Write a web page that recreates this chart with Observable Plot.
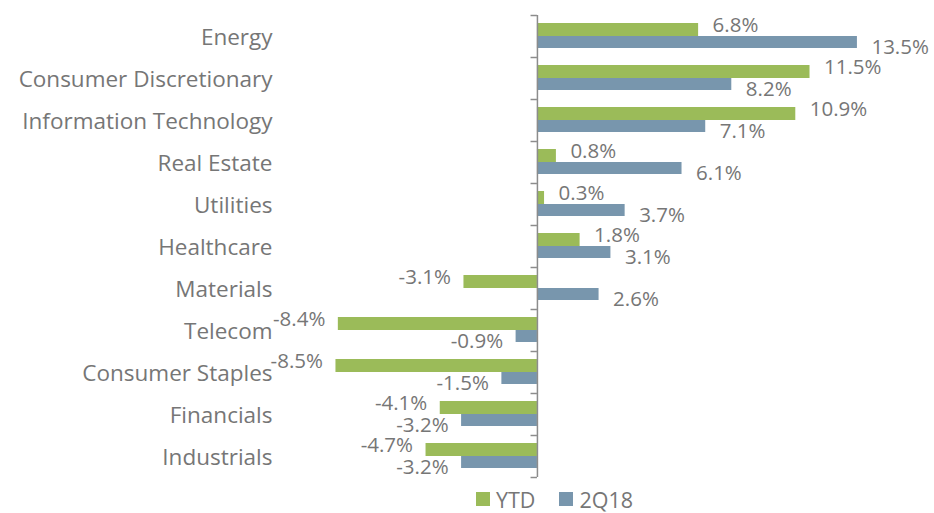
<!DOCTYPE html>
<html>
<head>
<meta charset="utf-8">
<script src="https://cdn.jsdelivr.net/npm/d3@7"></script>
<script src="https://cdn.jsdelivr.net/npm/@observablehq/plot@0.6"></script>
<style>
  html, body { margin: 0; padding: 0; background: #fff; }
  #chart { width: 934px; }
  .legend { display: flex; align-items: center; height: 28px; padding-left: 476px;
    font-family: "Open Sans", sans-serif; font-size: 21.5px; color: #767676; }
  .legend .sw { width: 14px; height: 14px; display: inline-block; margin-right: 6px; }
  .legend .item { display: flex; align-items: center; margin-right: 24px; }
</style>
</head>
<body>
<div id="chart"></div>
<script>
const categories = ["Energy", "Consumer Discretionary", "Information Technology", "Real Estate", "Utilities", "Healthcare", "Materials", "Telecom", "Consumer Staples", "Financials", "Industrials"];
const ytd = [6.8, 11.5, 10.9, 0.8, 0.3, 1.8, -3.1, -8.4, -8.5, -4.1, -4.7];
const q218 = [13.5, 8.2, 7.1, 6.1, 3.7, 3.1, 2.6, -0.9, -1.5, -3.2, -3.2];
const seriesNames = ["YTD", "2Q18"];
const colors = ["#9bbb59", "#7896ad"];

const ytdData = categories.map((c, i) => ({category: c, value: ytd[i]}));
const qData = categories.map((c, i) => ({category: c, value: q218[i]}));
const fmt = v => v.toFixed(1) + "%";
const textColor = "#767676";
const font = "Open Sans";
const labelSize = 20.5;

function labels(data, dy) {
  return [
    Plot.text(data.filter(d => d.value >= 0), {x: "value", y: "category", text: d => fmt(d.value),
      dy, dx: 14, textAnchor: "start", fontSize: labelSize, fill: textColor}),
    Plot.text(data.filter(d => d.value < 0), {x: "value", y: "category", text: d => fmt(d.value),
      dy, dx: -13, textAnchor: "end", fontSize: labelSize, fill: textColor})
  ];
}

const chart = Plot.plot({
  width: 934,
  height: 485,
  marginTop: 15,
  marginBottom: 8,
  marginLeft: 280,
  marginRight: 10,
  style: {fontFamily: font, background: "#fff"},
  x: {domain: [-10.84, 16.33], axis: null},
  y: {domain: categories, padding: 0, axis: null},
  marks: [
    Plot.barX(ytdData, {x: 0, x2: "value", y: "category", fill: colors[0], insetTop: 8, insetBottom: 21}),
    Plot.barX(qData, {x: 0, x2: "value", y: "category", fill: colors[1], insetTop: 21, insetBottom: 9}),
    Plot.ruleX([0], {stroke: "#8c8c8c", strokeWidth: 1.5}),
    Plot.ruleY(categories, {y: d => d, x1: -0.27, x2: 0, dy: -21, stroke: "#8c8c8c", strokeWidth: 1.5}),
    Plot.ruleY([categories[categories.length - 1]], {y: d => d, x1: -0.27, x2: 0, dy: 21, stroke: "#8c8c8c", strokeWidth: 1.5}),
    Plot.text(categories, {y: d => d, frameAnchor: "left", textAnchor: "end", dx: -8, dy: 1, fontSize: 22.5, fill: textColor}),
    ...labels(ytdData, -11.5),
    ...labels(qData, 11)
  ]
});
document.getElementById("chart").appendChild(chart);

const legend = document.createElement("div");
legend.className = "legend";
seriesNames.forEach((name, i) => {
  const item = document.createElement("span");
  item.className = "item";
  const sw = document.createElement("span");
  sw.className = "sw";
  sw.style.background = colors[i];
  item.appendChild(sw);
  item.appendChild(document.createTextNode(name));
  legend.appendChild(item);
});
document.getElementById("chart").appendChild(legend);
</script>
</body>
</html>
